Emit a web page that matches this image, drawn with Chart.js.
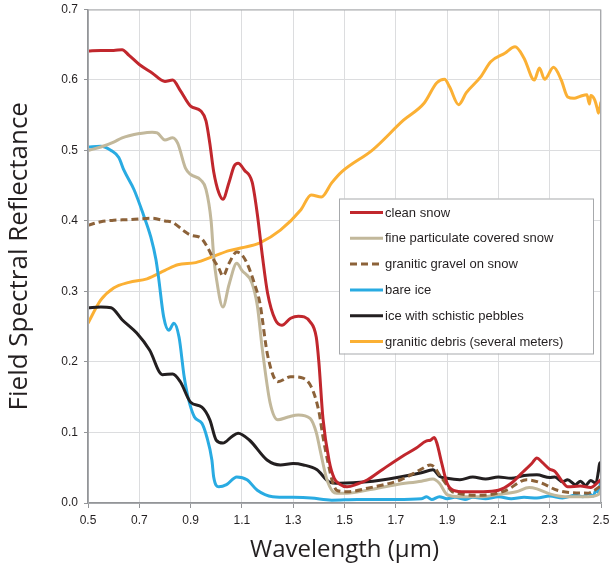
<!DOCTYPE html>
<html><head><meta charset="utf-8">
<script src="https://cdn.jsdelivr.net/npm/chart.js@4.4.0/dist/chart.umd.min.js"></script>
<style>html,body{margin:0;padding:0;background:#fff;}</style>
</head><body>
<canvas id="c" width="609" height="567"></canvas>
<script>
// ---- data ----
const seriesNames = ["clean snow","fine particulate covered snow","granitic gravel on snow","bare ice","ice with schistic pebbles","granitic debris (several meters)"];
const xTicks = [0.5,0.7,0.9,1.1,1.3,1.5,1.7,1.9,2.1,2.3,2.5];
const yTicks = [0,0.1,0.2,0.3,0.4,0.5,0.6,0.7];

const cleanSnowX = [0.50,0.55,0.60,0.633,0.66,0.70,0.75,0.80,0.83,0.86,0.90,0.94,0.96,0.975,0.99,1.01,1.026,1.05,1.07,1.085,1.11,1.14,1.16,1.18,1.20,1.23,1.256,1.29,1.32,1.366,1.39,1.40,1.416,1.44,1.46,1.48,1.51,1.55,1.59,1.65,1.72,1.78,1.82,1.835,1.85,1.86,1.88,1.90,1.925,1.97,2.04,2.10,2.15,2.19,2.23,2.25,2.27,2.30,2.32,2.35,2.37,2.42,2.46,2.49,2.50];
const cleanSnowY = [0.641,0.642,0.642,0.643,0.635,0.622,0.610,0.598,0.600,0.585,0.563,0.556,0.542,0.510,0.470,0.440,0.431,0.455,0.478,0.482,0.472,0.455,0.410,0.350,0.298,0.260,0.252,0.262,0.265,0.257,0.235,0.200,0.120,0.060,0.035,0.027,0.023,0.027,0.033,0.048,0.065,0.078,0.088,0.089,0.093,0.085,0.055,0.028,0.018,0.016,0.016,0.018,0.028,0.042,0.056,0.064,0.058,0.048,0.045,0.030,0.023,0.024,0.022,0.030,0.033];

const fineSnowX = [0.50,0.55,0.60,0.633,0.66,0.70,0.75,0.77,0.80,0.83,0.85,0.88,0.90,0.94,0.96,0.98,0.99,1.00,1.026,1.05,1.08,1.10,1.139,1.16,1.18,1.21,1.24,1.28,1.32,1.366,1.39,1.405,1.43,1.455,1.47,1.51,1.60,1.70,1.80,1.845,1.87,1.90,1.95,2.04,2.10,2.17,2.22,2.25,2.30,2.36,2.45,2.49,2.50];
const fineSnowY = [0.500,0.505,0.512,0.518,0.521,0.524,0.526,0.525,0.515,0.518,0.510,0.475,0.466,0.458,0.445,0.400,0.350,0.320,0.278,0.310,0.340,0.330,0.312,0.280,0.217,0.142,0.118,0.122,0.125,0.120,0.100,0.075,0.035,0.016,0.014,0.014,0.019,0.026,0.031,0.034,0.028,0.012,0.009,0.009,0.012,0.016,0.022,0.020,0.013,0.009,0.009,0.012,0.018];

const gravelX = [0.50,0.55,0.60,0.66,0.70,0.75,0.80,0.83,0.87,0.90,0.94,0.97,0.99,1.01,1.026,1.05,1.08,1.10,1.12,1.15,1.17,1.20,1.24,1.29,1.33,1.37,1.40,1.416,1.44,1.455,1.47,1.51,1.59,1.72,1.80,1.835,1.85,1.87,1.90,1.92,2.04,2.13,2.21,2.27,2.33,2.45,2.49,2.50];
const gravelY = [0.394,0.399,0.401,0.402,0.403,0.404,0.400,0.398,0.387,0.380,0.376,0.360,0.345,0.333,0.322,0.340,0.356,0.352,0.340,0.310,0.284,0.210,0.172,0.179,0.178,0.165,0.130,0.094,0.050,0.028,0.018,0.016,0.021,0.033,0.048,0.054,0.051,0.040,0.025,0.016,0.011,0.018,0.033,0.028,0.018,0.014,0.022,0.025];

const bareIceX = [0.50,0.55,0.59,0.62,0.64,0.68,0.715,0.745,0.765,0.775,0.795,0.815,0.835,0.855,0.875,0.89,0.915,0.944,0.963,0.983,0.99,1.01,1.04,1.08,1.12,1.16,1.22,1.30,1.37,1.45,1.55,1.70,1.80,1.82,1.84,1.87,1.90,1.93,1.97,2.00,2.05,2.10,2.15,2.20,2.25,2.30,2.35,2.40,2.43,2.45,2.47,2.48,2.49,2.50];
const bareIceY = [0.505,0.506,0.500,0.490,0.472,0.444,0.410,0.377,0.345,0.320,0.264,0.245,0.255,0.235,0.179,0.150,0.122,0.113,0.094,0.061,0.037,0.023,0.026,0.037,0.033,0.018,0.009,0.008,0.007,0.004,0.005,0.005,0.006,0.009,0.005,0.009,0.006,0.008,0.005,0.008,0.006,0.009,0.006,0.008,0.007,0.010,0.007,0.011,0.009,0.013,0.010,0.018,0.015,0.033];

const pebblesX = [0.50,0.55,0.59,0.633,0.69,0.74,0.79,0.83,0.86,0.90,0.944,0.975,1.00,1.026,1.06,1.085,1.13,1.198,1.25,1.30,1.34,1.393,1.44,1.48,1.588,1.716,1.80,1.845,1.87,1.90,1.95,2.00,2.05,2.10,2.15,2.20,2.25,2.30,2.32,2.35,2.37,2.40,2.42,2.44,2.46,2.48,2.49,2.495,2.50];
const pebblesY = [0.277,0.278,0.277,0.260,0.241,0.217,0.182,0.183,0.172,0.143,0.136,0.118,0.089,0.085,0.094,0.099,0.089,0.061,0.054,0.056,0.054,0.047,0.030,0.028,0.030,0.037,0.043,0.047,0.038,0.035,0.033,0.037,0.034,0.037,0.035,0.039,0.040,0.036,0.037,0.030,0.033,0.026,0.031,0.025,0.032,0.028,0.045,0.057,0.045];

const debrisX = [0.50,0.55,0.60,0.66,0.73,0.80,0.85,0.92,0.99,1.05,1.10,1.17,1.25,1.33,1.37,1.41,1.45,1.49,1.61,1.73,1.81,1.86,1.89,1.91,1.945,1.975,2.03,2.07,2.125,2.165,2.20,2.24,2.26,2.28,2.315,2.345,2.37,2.395,2.42,2.445,2.455,2.46,2.475,2.485,2.49,2.50];
const debrisY = [0.255,0.288,0.305,0.313,0.318,0.330,0.338,0.341,0.350,0.358,0.362,0.369,0.387,0.416,0.437,0.434,0.454,0.470,0.501,0.543,0.567,0.596,0.601,0.590,0.565,0.582,0.604,0.626,0.638,0.647,0.631,0.600,0.617,0.601,0.618,0.600,0.576,0.574,0.577,0.579,0.566,0.578,0.572,0.560,0.553,0.569];

const seriesColors = ["#c1272d","#c2b89b","#8c6239","#29abe2","#231f20","#fbb034"];

// ---- build ----
function pts(xs, ys){ return xs.map((x,i)=>({x:x, y:ys[i]})); }
const allX = [cleanSnowX, fineSnowX, gravelX, bareIceX, pebblesX, debrisX];
const allY = [cleanSnowY, fineSnowY, gravelY, bareIceY, pebblesY, debrisY];

const datasets = seriesNames.map((n,i)=>({
  label: n,
  data: pts(allX[i], allY[i]),
  borderColor: seriesColors[i],
  backgroundColor: seriesColors[i],
  borderWidth: 3,
  borderDash: i===2 ? [7,4] : [],
  pointRadius: 0,
  cubicInterpolationMode: 'monotone',
  fill: false
}));
datasets.forEach((d,i)=>{ d.order = [0,2,1,4,3,5][i]; });

const frame = {
  id:'frame',
  afterDatasetsDraw(chart){
    const {ctx, chartArea:a} = chart;
    ctx.save();
    ctx.strokeStyle = '#a7a9ac';
    ctx.lineWidth = 1;
    ctx.strokeRect(a.left+0.5, a.top+0.5, a.right-a.left-1, a.bottom-a.top);
    ctx.restore();
  }
};

const boxLegend = {
  id:'boxLegend',
  afterDatasetsDraw(chart){
    const {ctx, chartArea:a} = chart;
    const left = a.right - 262, top = a.top + 189, w = 254, h = 155;
    ctx.save();
    ctx.fillStyle = '#ffffff';
    ctx.fillRect(left, top, w, h);
    ctx.strokeStyle = '#a7a9ac';
    ctx.lineWidth = 1;
    ctx.strokeRect(left+0.5, top+0.5, w, h);
    ctx.font = '13px "Liberation Sans", Arial, sans-serif';
    ctx.textBaseline = 'middle';
    chart.data.datasets.forEach((d,i)=>{
      const y = top + 14 + i*25.8;
      ctx.beginPath();
      ctx.strokeStyle = d.borderColor;
      ctx.lineWidth = 3;
      ctx.setLineDash(d.borderDash || []);
      ctx.moveTo(left+11, y); ctx.lineTo(left+44, y);
      ctx.stroke();
      ctx.setLineDash([]);
      ctx.fillStyle = '#231f20';
      ctx.fillText(d.label, left+46, y+0.5);
    });
    ctx.restore();
  }
};

new Chart(document.getElementById('c'), {
  type: 'line',
  data: { datasets },
  options: {
    responsive: false,
    animation: false,
    devicePixelRatio: 1,
    layout: { padding: { top: 9.5, right: 8, left: 0, bottom: 0 } },
    plugins: { legend: { display: false }, tooltip: { enabled: false } },
    scales: {
      x: {
        type: 'linear', min: 0.5, max: 2.5,
        afterBuildTicks(s){ s.ticks = xTicks.map(v=>({value:v})); },
        afterFit(s){ s.height = 64; s.paddingLeft = 0; s.paddingRight = 0; },
        ticks: { autoSkip:false, maxRotation:0, padding: 5, color:'#231f20',
          font:{ family:'"Liberation Sans", Arial, sans-serif', size:12 },
          callback: v => v.toFixed(1) },
        grid: { color:'#dcdddf', tickColor:'#939598', tickLength:5 },
        border: { color:'#939598', width:1.5 },
        title: { display:true, text:'Wavelength (μm)', color:'#231f20',
          font:{ family:'"Open Sans", sans-serif', size:24 }, padding:{top:0,bottom:2} }
      },
      y: {
        type: 'linear', min: 0, max: 0.7,
        afterBuildTicks(s){ s.ticks = yTicks.map(v=>({value:v})); },
        afterFit(s){ s.width = 88; s.paddingTop = 0; s.paddingBottom = 0; },
        ticks: { autoSkip:false, padding: 6, color:'#231f20',
          font:{ family:'"Liberation Sans", Arial, sans-serif', size:12 },
          callback: v => v.toFixed(1) },
        grid: { color:'#dcdddf', tickColor:'#939598', tickLength:4 },
        border: { color:'#939598', width:1.5 },
        title: { display:true, text:'Field Spectral Reflectance', color:'#231f20',
          font:{ family:'"Open Sans", sans-serif', size:26 }, padding:{top:4,bottom:0} }
      }
    }
  },
  plugins: [frame, boxLegend]
});
</script>
</body></html>
